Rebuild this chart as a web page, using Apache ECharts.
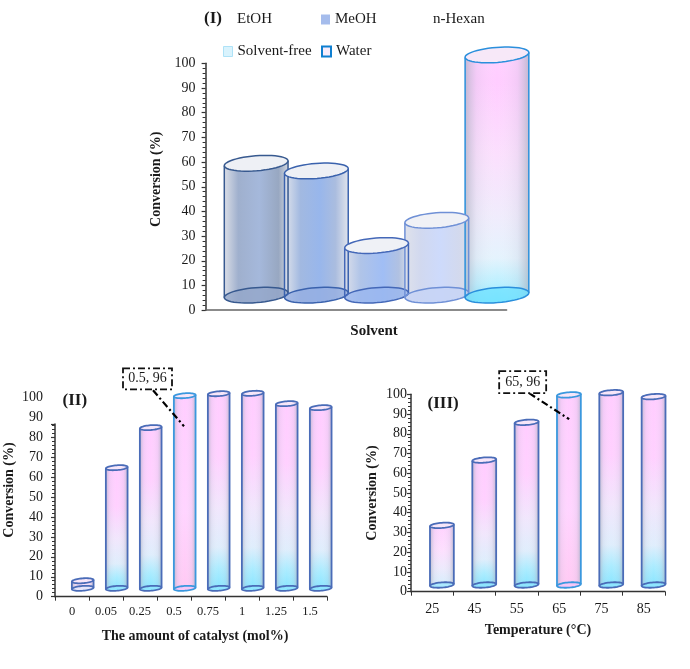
<!DOCTYPE html>
<html>
<head>
<meta charset="utf-8">
<style>html,body{margin:0;padding:0;background:#fff}#c{width:690px;height:669px}</style>
<script src="https://cdn.jsdelivr.net/npm/echarts@6/dist/echarts.min.js"></script>
</head>
<body>
<div id="c"></div>
<script>
// ---- data ----
const solvents = ['EtOH', 'MeOH', 'n-Hexan', 'Solvent-free', 'Water'];
const solventValues = [59.5, 56.4, 26.2, 36.4, 103.4];
const solventBase = 6.1;

const catalystLabels = ['0', '0.05', '0.25', '0.5', '0.75', '1', '1.25', '1.5'];
const catalystValues = [8, 64.7, 84.8, 100.8, 101.8, 102, 96.8, 94.8];
const catalystBase = 4.2;

const temperatureLabels = ['25', '45', '55', '65', '75', '85'];
const temperatureValues = [33.6, 66.7, 85.8, 99.7, 100.8, 98.8];
const temperatureBase = 3.4;

const yTicks = 10;
// ---- styles ----
const FONT = '"Liberation Serif","Times New Roman",serif';
const INK = '#1a1a1a';
const hGrad = (stops) => ({type:'linear',x:0,y:0,x2:1,y2:0,colorStops:stops.map((c,i)=>({offset:c[0],color:c[1]}))});
const vGrad = (stops) => ({type:'linear',x:0,y:0,x2:0,y2:1,colorStops:stops.map((c,i)=>({offset:c[0],color:c[1]}))});
const edgeShade = hGrad([[0,'rgba(170,175,190,.7)'],[.18,'rgba(190,190,210,.18)'],[.5,'rgba(255,255,255,0)'],[.82,'rgba(190,190,210,.18)'],[1,'rgba(170,175,190,.7)']]);
const pinkCyan = vGrad([[0,'#ffc8ff'],[.32,'#ffccff'],[.58,'#f0e4fc'],[.78,'#dcecfc'],[.89,'#a3eaff'],[1,'#79e2ff']]);
const pinkOnly = vGrad([[0,'#ffc8ff'],[.6,'#ffd0ff'],[1,'#ffc4f2']]);
const solventStyles = [
 {fill:hGrad([[0,'#d6dae4'],[.22,'#97a9c9'],[.55,'#9db2d8'],[.85,'#8fa0bc'],[1,'#cdd2dc']]),stroke:'#37598f',baseFill:'#93a6c8',top:'#eef0f5'},
 {fill:hGrad([[0,'#dde1ea'],[.25,'#9ab3de'],[.55,'#8fb0ea'],[.8,'#a3b7dc'],[1,'#dde1ea']]),stroke:'#3a62ad',baseFill:'#94aee2',top:'#eef0f5'},
 {fill:hGrad([[0,'#d8dce8'],[.25,'#a9bfe6'],[.6,'#98b8f4'],[.85,'#aabcdf'],[1,'#d4dae6']]),stroke:'#4468b8',baseFill:'#98b5ef',top:'#eff1f6'},
 {fill:hGrad([[0,'#dcdfe9'],[.25,'#cdd5ee'],[.55,'#c9d7fb'],[.85,'#cfd6ec'],[1,'#d8dbe6']]),stroke:'#6f90d6',baseFill:'#c6d3f6',top:'#f0f1f6'},
 {fill:vGrad([[0,'#ffcdff'],[.12,'#ffc8ff'],[.4,'#fbdcfd'],[.65,'#efeafc'],[.82,'#e2f2fd'],[.92,'#b5efff'],[1,'#80e6ff']]),stroke:'#2a8fdc',baseFill:'#6fe2ff',top:'#f7e8f8',shade:edgeShade}
];
const barStyle = {fill:pinkCyan,stroke:'#4a6cb8',baseFill:'#8fe6ff',top:'#f7e6f9',shade:edgeShade};
const keyBarStyle = {fill:pinkOnly,stroke:'#3b98de',baseFill:'#f5c6f8',top:'#f7e6f9',shade:edgeShade};
const shortBarStyle = {fill:vGrad([[0,'#f9d5fb'],[.5,'#f4dcf9'],[1,'#dfe6fb']]),stroke:'#4a6cb8',baseFill:'#e4e6fb',top:'#f7e6f9',shade:edgeShade};
const lowBarStyle = {fill:vGrad([[0,'#ffcdff'],[.4,'#fddcfe'],[.7,'#ebe8fc'],[.92,'#d6ecfc'],[1,'#bdeefe']]),stroke:'#4a6cb8',baseFill:'#a0e8ff',top:'#f7e6f9',shade:edgeShade};

function ellipsePoint(cx,cy,rx,ry,tilt,t){
  const ca=Math.cos(tilt),sa=Math.sin(tilt),x=rx*Math.cos(t),y=ry*Math.sin(t);
  return [cx+x*ca-y*sa, cy+x*sa+y*ca];
}
function ellipsePoints(cx,cy,rx,ry,tilt,from,to){
  const pts=[];for(let i=0;i<=48;i++){pts.push(ellipsePoint(cx,cy,rx,ry,tilt,from+(to-from)*i/48));}return pts;
}
function cylinder(base,geom,styleOf){
  return function(params,api){
    const i=api.value(0),v=api.value(1);
    const band=api.size([1,0])[0];
    const top=api.coord([i,v]),bot=api.coord([i,base]);
    const dx=band*geom.shift,cx=top[0]+dx,rx=band*geom.width/2,ry=geom.ry,tilt=-geom.tilt*Math.PI/180;
    const s=styleOf(params.dataIndex);
    const lw=geom.lw;
    const body=[ellipsePoint(cx,top[1],rx,ry,tilt,Math.PI)].concat(ellipsePoints(cx,bot[1],rx,ry,tilt,Math.PI,0)).concat([ellipsePoint(cx,top[1],rx,ry,tilt,0)]);
    const kids=[
      {type:'polygon',z2:1,shape:{points:body},style:{fill:s.fill,stroke:null,opacity:.92},silent:true}
    ];
    if(s.shade)kids.push({type:'polygon',z2:2,shape:{points:body},style:{fill:s.shade,stroke:null},silent:true});
    kids.push({type:'polygon',z2:3,shape:{points:ellipsePoints(cx,bot[1],rx,ry,tilt,0,Math.PI*2)},style:{fill:s.baseFill,opacity:.75},silent:true});
    kids.push({type:'polygon',z2:10,shape:{points:ellipsePoints(cx,bot[1],rx,ry,tilt,0,Math.PI*2)},style:{fill:null,stroke:s.stroke,lineWidth:lw},silent:true});
    kids.push({type:'polyline',z2:10,shape:{points:[body[0],body[1]]},style:{fill:null,stroke:s.stroke,lineWidth:lw},silent:true});
    kids.push({type:'polyline',z2:10,shape:{points:[body[body.length-2],body[body.length-1]]},style:{fill:null,stroke:s.stroke,lineWidth:lw},silent:true});
    kids.push({type:'polygon',z2:11,shape:{points:ellipsePoints(cx,top[1],rx,ry,tilt,0,Math.PI*2)},style:{fill:s.top,stroke:s.stroke,lineWidth:lw},silent:true});
    return {type:'group',children:kids};
  };
}
function callout(label,g){
  return function(params,api){
    const p=api.coord([api.value(0),api.value(1)]);
    const dash=[7,3,2,3];
    const x0=p[0]+g.box[0],y0=p[1]+g.box[1],x1=p[0]+g.box[2],y1=p[1]+g.box[3];
    return {type:'group',children:[
      {type:'line',z2:20,shape:{x1:p[0]+g.lead[0],y1:p[1]+g.lead[1],x2:p[0]+g.lead[2],y2:p[1]+g.lead[3]},style:{stroke:'#000',lineWidth:2.2,lineDash:dash}},
      {type:'rect',z2:21,shape:{x:x0,y:y0,width:x1-x0,height:y1-y0},style:{fill:'#fff',stroke:'#111',lineWidth:1.8,lineDash:dash}},
      {type:'text',z2:22,style:{x:(x0+x1)/2,y:(y0+y1)/2,text:label,align:'center',verticalAlign:'middle',font:'14px '+FONT,fill:INK}}
    ]};
  };
}
const nameText=(pad)=>({fontFamily:FONT,fontSize:14,fontWeight:'bold',color:INK,padding:pad});
const valueAxis=(gridIndex,opt)=>Object.assign({
  type:'value',gridIndex,min:0,max:100,interval:yTicks,splitLine:{show:false},
  axisLine:{show:true,onZero:false,lineStyle:{color:'#333',width:1.5}},
  axisTick:{show:true,length:4,lineStyle:{color:'#333',width:1.2}},
  minorTick:{show:true,splitNumber:5,length:3,lineStyle:{color:'#333',width:1}},
  axisLabel:{show:true,margin:10,fontFamily:FONT,fontSize:14,color:INK}
},opt);
const legendAt=(name,left,top,icon)=>({
  left,top,orient:'horizontal',padding:0,itemWidth:9,itemHeight:10,selectedMode:false,
  textStyle:{fontFamily:FONT,fontSize:15,color:INK},
  data:[{name,icon:'rect',itemStyle:icon}]
});
const noIcon={color:'rgba(0,0,0,0)',borderWidth:0};

const series=[];
solvents.forEach((name,k)=>{
  series.push({type:'custom',name,coordinateSystem:'cartesian2d',xAxisIndex:0,yAxisIndex:0,
    data:[[k,solventValues[k]]],encode:{x:0,y:1},
    renderItem:cylinder(solventBase,{shift:.34,width:1.062,ry:7.5,tilt:4.5,lw:1.5},()=>solventStyles[k]),z:3});
});
const catalystStyle=(i)=>i===0?shortBarStyle:(i===3?keyBarStyle:barStyle);
series.push({type:'custom',name:'Catalyst',xAxisIndex:1,yAxisIndex:1,
  data:catalystValues.map((v,i)=>[i,v]),encode:{x:0,y:1},
  renderItem:cylinder(catalystBase,{shift:.315,width:.64,ry:2.4,tilt:4.5,lw:1.8},catalystStyle),z:3});
series.push({type:'custom',name:'Catalyst note',xAxisIndex:1,yAxisIndex:1,
  data:[[3,96]],encode:{x:0,y:1},z:8,
  renderItem:callout('0.5, 96',{box:[-51,-37,-2,-16],lead:[-21,-15,10,21]})});
const temperatureStyle=(i)=>i===0?lowBarStyle:(i===3?keyBarStyle:barStyle);
series.push({type:'custom',name:'Temperature',xAxisIndex:3,yAxisIndex:3,
  data:temperatureValues.map((v,i)=>[i,v]),encode:{x:0,y:1},
  renderItem:cylinder(temperatureBase,{shift:.23,width:.565,ry:2.6,tilt:4.5,lw:1.8},temperatureStyle),z:3});
series.push({type:'custom',name:'Temperature note',xAxisIndex:3,yAxisIndex:3,
  data:[[3,96]],encode:{x:0,y:1},z:8,
  renderItem:callout('65, 96',{box:[-60,-31,-13,-9],lead:[-30,-9,10,17]})});

const option={
  animation:false,
  backgroundColor:'#fff',
  tooltip:{show:false},
  title:[
    {text:'(I)',left:204,top:10,padding:0,textStyle:{fontFamily:FONT,fontSize:17,fontWeight:'bold',color:INK}},
    {text:'(II)',left:62.5,top:392,padding:0,textStyle:{fontFamily:FONT,fontSize:17,fontWeight:'bold',color:INK}},
    {text:'(III)',left:427.5,top:395,padding:0,textStyle:{fontFamily:FONT,fontSize:17,fontWeight:'bold',color:INK}}
  ],
  legend:[
    legendAt('EtOH',223,12,noIcon),
    legendAt('MeOH',321,12,{color:'#a5bcec',borderColor:'#b5c6ee',borderWidth:0}),
    legendAt('n-Hexan',419,12,noIcon),
    legendAt('Solvent-free',223,44,{color:'#d9f3fd',borderColor:'#aee2f7',borderWidth:1}),
    legendAt('Water',321,44,{color:'#f8ecfb',borderColor:'#0f7fd0',borderWidth:2})
  ],
  grid:[
    {left:205.6,top:63.3,width:301,height:246.9},
    {left:55,top:397.3,width:272,height:199.4},
    {left:55,top:424,width:272,height:172.7},
    {left:411,top:394.3,width:254,height:197.4}
  ],
  xAxis:[
    {type:'category',gridIndex:0,data:solvents,axisTick:{show:false},axisLabel:{show:false},
     axisLine:{lineStyle:{color:'#666',width:1.5}},
     name:'Solvent',nameLocation:'middle',nameGap:13,nameTextStyle:Object.assign(nameText([0,0,0,36]),{fontSize:15})},
    {type:'category',gridIndex:1,data:catalystLabels,
     axisLine:{lineStyle:{color:'#333',width:1.3}},axisTick:{show:true,length:4,alignWithLabel:false,lineStyle:{color:'#333'}},
     axisLabel:{interval:0,margin:9,fontFamily:FONT,fontSize:12.5,color:INK},
     name:'The amount of catalyst (mol%)',nameLocation:'middle',nameGap:33,nameTextStyle:nameText([0,0,0,8])},
    {type:'value',gridIndex:2,show:false,min:0,max:1},
    {type:'category',gridIndex:3,data:temperatureLabels,
     axisLine:{lineStyle:{color:'#333',width:1.3}},axisTick:{show:true,length:4,lineStyle:{color:'#333'}},
     axisLabel:{interval:0,margin:11,fontFamily:FONT,fontSize:14,color:INK},
     name:'Temperature (°C)',nameLocation:'middle',nameGap:32,nameTextStyle:nameText(0)}
  ],
  yAxis:[
    valueAxis(0,{name:'Conversion (%)',nameLocation:'middle',nameGap:42,nameTextStyle:nameText([0,0,0,15])}),
    valueAxis(1,{axisLine:{show:false},axisTick:{show:false},minorTick:{show:false},axisLabel:{margin:12,fontFamily:FONT,fontSize:14,color:INK},
      name:'Conversion (%)',nameLocation:'middle',nameGap:39,nameTextStyle:nameText([0,0,0,14])}),
    valueAxis(2,{max:86.6,axisLabel:{show:false}}),
    valueAxis(3,{axisLabel:{margin:4,fontFamily:FONT,fontSize:14,color:INK},name:'Conversion (%)',nameLocation:'middle',nameGap:32,nameTextStyle:nameText(0)})
  ],
  series
};
const chart=echarts.init(document.getElementById('c'),null,{renderer:'canvas',width:690,height:669});
chart.setOption(option);
</script>
</body>
</html>
